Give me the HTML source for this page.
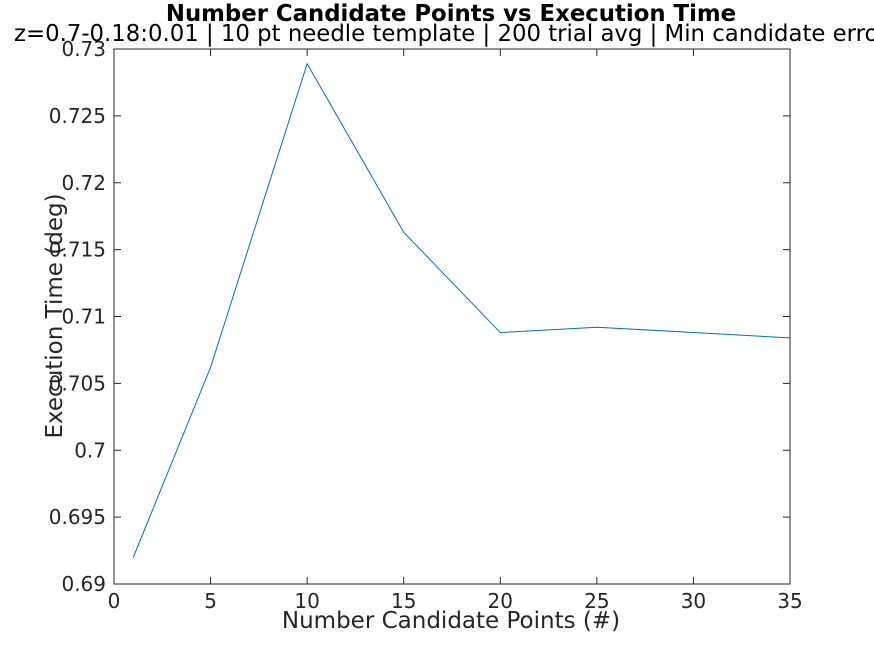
<!DOCTYPE html>
<html><head><meta charset="utf-8"><style>
body{margin:0;background:#fff;overflow:hidden}
svg{display:block;font-family:"DejaVu Sans","Liberation Sans",sans-serif}
</style></head><body>
<svg width="874" height="656" viewBox="0 0 874 656">
<rect width="874" height="656" fill="#fff"/>
<g id="axes"></g>
<text x="451" y="21" text-anchor="middle" font-size="22.8" font-weight="bold" fill="#000">Number Candidate Points vs Execution Time</text>
<text x="14" y="41" font-size="22.8" fill="#000">z=0.7-0.18:0.01 | 10 pt needle template | 200 trial avg | Min candidate error</text>
<text x="451" y="628" text-anchor="middle" font-size="23" fill="#262626">Number Candidate Points (#)</text>
<text transform="translate(62,316) rotate(-90)" text-anchor="middle" font-size="23" fill="#262626">Execution Time (deg)</text>
</svg>
<script>
const xValues=[1,5,10,15,20,25,30,35];
const yValues=[0.6920,0.7062,0.7289,0.7163,0.7088,0.7092,0.7088,0.7084];
const xTicks=[0,5,10,15,20,25,30,35];
const yTicks=[0.69,0.695,0.7,0.705,0.71,0.715,0.72,0.725,0.73];
const yTickLabels=["0.69","0.695","0.7","0.705","0.71","0.715","0.72","0.725","0.73"];
const L=114,R=790,T=49,B=584;
const sx=v=>L+(v-0)/(35-0)*(R-L);
const sy=v=>B-(v-0.69)/(0.73-0.69)*(B-T);
const NS="http://www.w3.org/2000/svg";
const g=document.getElementById('axes');
function mk(t,a){const e=document.createElementNS(NS,t);for(const k in a)e.setAttribute(k,a[k]);g.appendChild(e);return e;}
const box=mk('rect',{x:L,y:T,width:R-L,height:B-T,fill:'#fff',stroke:'#262626','stroke-width':1});


xTicks.forEach(v=>{const x=sx(v);
 const t=mk('line',{x1:x,x2:x,y1:B,y2:B-7,stroke:'#262626'});
 
 
 const t2=mk('line',{x1:x,x2:x,y1:T,y2:T+7,stroke:'#262626'});
 
 
 const l=mk('text',{x:x,y:B+24,'text-anchor':'middle','font-size':20,fill:'#262626'});l.textContent=v;
 
 
});
yTicks.forEach((v,i)=>{const y=sy(v);
 const t=mk('line',{x1:L,x2:L+7,y1:y,y2:y,stroke:'#262626'});
 
 
 const t2=mk('line',{x1:R,x2:R-7,y1:y,y2:y,stroke:'#262626'});
 
 
 const l=mk('text',{x:L-8,y:y+7,'text-anchor':'end','font-size':20,fill:'#262626'});l.textContent=yTickLabels[i];
 
 
});
const pts=xValues.map((x,i)=>sx(x)+','+sy(yValues[i])).join(' ');
const line=mk('polyline',{points:pts,fill:'none',stroke:'#0072BD','stroke-width':1});


</script>
</body></html>
